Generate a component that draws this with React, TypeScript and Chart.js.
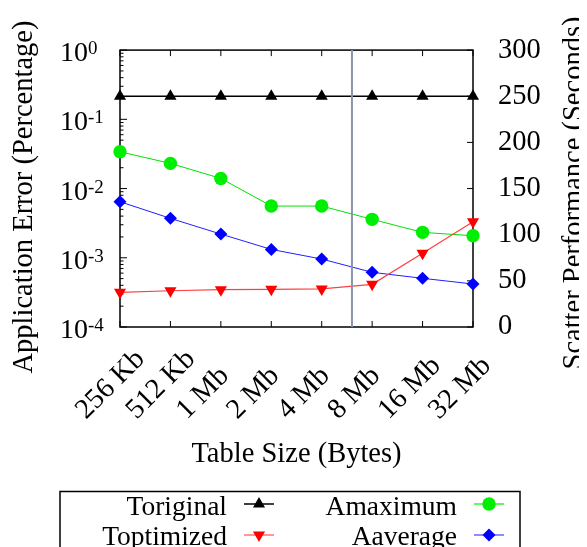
import React, { useEffect, useRef } from 'react';
import { Chart, registerables } from 'chart.js';

Chart.register(...registerables);

const categories = ['256 Kb', '512 Kb', '1 Mb', '2 Mb', '4 Mb', '8 Mb', '16 Mb', '32 Mb'];
const tOriginal = [250, 250, 250, 250, 250, 250, 250, 250];
const tOptimized = [37.6, 39.3, 40.4, 40.8, 41.2, 46.2, 79.8, 114];
const aMaximum = [0.034, 0.0231, 0.014, 0.00559, 0.00559, 0.00359, 0.00233, 0.00208];
const aAverage = [0.00645, 0.00371, 0.0022, 0.00132, 0.000959, 0.000616, 0.000505, 0.000418];
const errorTicks = [1e-4, 1e-3, 1e-2, 1e-1, 1];
const secondsTicks = [0, 50, 100, 150, 200, 250, 300];
const markerPosition = 4.6;
const xTitle = 'Table Size (Bytes)';
const yTitle = 'Application Error (Percentage)';
const y2Title = 'Scatter Performance (Seconds)';

const FONT = '"Liberation Serif", "Times New Roman", serif';

const legendItems = [
  { label: 'Toriginal', color: '#000000', line: '#000000', style: 'triUp', col: 0, row: 0 },
  { label: 'Toptimized', color: '#ff0000', line: '#ff5050', style: 'triDown', col: 0, row: 1 },
  { label: 'Amaximum', color: '#00ee00', line: '#00ee00', style: 'circle', col: 1, row: 0 },
  { label: 'Aaverage', color: '#0000ff', line: '#4040ff', style: 'diamond', col: 1, row: 1 },
];

function drawMarker(ctx: CanvasRenderingContext2D, style: string, x: number, y: number, r: number) {
  ctx.beginPath();
  if (style === 'circle') {
    ctx.arc(x, y, r, 0, Math.PI * 2);
  } else if (style === 'diamond') {
    ctx.moveTo(x - r, y); ctx.lineTo(x, y - r); ctx.lineTo(x + r, y); ctx.lineTo(x, y + r);
  } else if (style === 'triUp') {
    const h = r * 0.866;
    ctx.moveTo(x, y - r); ctx.lineTo(x + h, y + r / 2); ctx.lineTo(x - h, y + r / 2);
  } else {
    const h = r * 0.866;
    ctx.moveTo(x, y + r); ctx.lineTo(x + h, y - r / 2); ctx.lineTo(x - h, y - r / 2);
  }
  ctx.closePath();
  ctx.fill();
}

const decorPlugin = {
  id: 'decor',
  beforeDatasetsDraw(chart: any) {
    const { ctx, chartArea: a, scales } = chart;
    ctx.save();
    ctx.strokeStyle = '#000';
    ctx.lineWidth = 1.5;
    ctx.strokeRect(a.left, a.top, a.right - a.left, a.bottom - a.top);
    ctx.lineWidth = 1;
    const seg = (x1: number, y1: number, x2: number, y2: number) => {
      ctx.beginPath(); ctx.moveTo(x1, y1); ctx.lineTo(x2, y2); ctx.stroke();
    };
    categories.forEach((_, i) => {
      const px = scales.x.getPixelForValue(i);
      seg(px, a.bottom, px, a.bottom - 6);
      seg(px, a.top, px, a.top + 6);
    });
    errorTicks.forEach((d, idx) => {
      const py = scales.y.getPixelForValue(d);
      seg(a.left, py, a.left + 7, py);
      if (idx < errorTicks.length - 1) {
        for (let m = 2; m <= 9; m++) {
          const pm = scales.y.getPixelForValue(d * m);
          seg(a.left, pm, a.left + 3.5, pm);
        }
      }
    });
    secondsTicks.forEach((v) => {
      const py = scales.y2.getPixelForValue(v);
      seg(a.right - 6, py, a.right, py);
    });
    ctx.restore();
  },
  afterDatasetsDraw(chart: any) {
    const { ctx, chartArea: a, scales } = chart;
    ctx.save();
    const px = scales.x.getPixelForValue(markerPosition);
    ctx.strokeStyle = '#8a96a8';
    ctx.lineWidth = 2;
    ctx.beginPath(); ctx.moveTo(px, a.top); ctx.lineTo(px, a.bottom); ctx.stroke();
    ctx.restore();
  },
  afterDraw(chart: any) {
    const { ctx, scales, chartArea: a } = chart;
    ctx.save();
    ctx.fillStyle = '#000';
    // left log tick labels with superscript exponents
    errorTicks.forEach((v) => {
      const py = scales.y.getPixelForValue(v);
      const exp = Math.round(Math.log10(v));
      ctx.font = '28px ' + FONT;
      ctx.textAlign = 'right';
      ctx.textBaseline = 'alphabetic';
      ctx.fillText('10', 80, py + 11);
      ctx.font = '19px ' + FONT;
      ctx.textAlign = 'left';
      ctx.fillText(exp < 0 ? '-' + -exp : String(exp), 80, py + 4);
    });
    // rotated x tick labels, start-aligned
    ctx.font = '28.5px ' + FONT;
    ctx.textAlign = 'left';
    ctx.textBaseline = 'alphabetic';
    categories.forEach((c, i) => {
      const px = scales.x.getPixelForValue(i);
      ctx.save();
      ctx.translate(px - 34, 412);
      ctx.rotate(-Math.PI / 4);
      ctx.fillText(c, 0, 0);
      ctx.restore();
    });
    // axis titles
    ctx.font = '28.5px ' + FONT;
    ctx.textAlign = 'center';
    ctx.fillText(xTitle, (a.left + a.right) / 2, 454);
    ctx.save();
    ctx.translate(24, 189);
    ctx.rotate(-Math.PI / 2);
    ctx.fillText(yTitle, 0, 0);
    ctx.restore();
    ctx.save();
    ctx.translate(574, 185);
    ctx.rotate(-Math.PI / 2);
    ctx.fillText(y2Title, 0, 0);
    ctx.restore();
    // legend
    ctx.strokeStyle = '#000';
    ctx.lineWidth = 1.5;
    ctx.strokeRect(52, 483.5, 460, 120);
    const textX = [219, 449];
    const lineX = [236, 466];
    const markY = [496, 527];
    const textY = [507, 537];
    legendItems.forEach((it) => {
      const y = markY[it.row];
      ctx.font = '27.5px ' + FONT;
      ctx.textAlign = 'right';
      ctx.textBaseline = 'alphabetic';
      ctx.fillStyle = '#000';
      ctx.fillText(it.label, textX[it.col], textY[it.row]);
      ctx.strokeStyle = it.line;
      ctx.lineWidth = it.style === 'triUp' ? 1.5 : 1.2;
      ctx.beginPath();
      ctx.moveTo(lineX[it.col], y);
      ctx.lineTo(lineX[it.col] + 30, y);
      ctx.stroke();
      ctx.fillStyle = it.color;
      drawMarker(ctx, it.style, lineX[it.col] + 15, y, it.style === 'circle' ? 6.7 : it.style === 'diamond' ? 6.5 : 7);
    });
    ctx.restore();
  },
};

export default function App() {
  const ref = useRef<HTMLCanvasElement>(null);
  useEffect(() => {
    Chart.defaults.color = '#000';
    Chart.defaults.font.family = FONT;
    const chart = new Chart(ref.current as HTMLCanvasElement, {
      type: 'line',
      data: {
        labels: categories,
        datasets: [
          {
            label: 'Toriginal', data: tOriginal, yAxisID: 'y2',
            borderColor: '#000000', backgroundColor: '#000000', borderWidth: 1.5,
            pointStyle: 'triangle', pointRadius: 7, pointBorderWidth: 0, clip: false,
          },
          {
            label: 'Toptimized', data: tOptimized, yAxisID: 'y2',
            borderColor: '#ff4040', backgroundColor: '#ff0000', borderWidth: 1.2,
            pointStyle: 'triangle', pointRotation: 180, pointRadius: 7, pointBorderWidth: 0, clip: false,
          },
          {
            label: 'Amaximum', data: aMaximum, yAxisID: 'y',
            borderColor: '#00e000', backgroundColor: '#00ee00', borderWidth: 1,
            pointStyle: 'circle', pointRadius: 6.7, pointBorderWidth: 0, clip: false,
          },
          {
            label: 'Aaverage', data: aAverage, yAxisID: 'y',
            borderColor: '#2020ff', backgroundColor: '#0000ff', borderWidth: 1,
            pointStyle: 'rectRot', pointRadius: 6.5, pointBorderWidth: 0, clip: false,
          },
        ],
      },
      options: {
        responsive: false,
        animation: false,
        devicePixelRatio: 1,
        layout: { autoPadding: false, padding: { top: 42, bottom: 80, left: 0, right: 0 } },
        plugins: { legend: { display: false }, tooltip: { enabled: false } },
        elements: { line: { tension: 0 } },
        scales: {
          x: {
            type: 'category',
            offset: false,
            grid: { display: false, drawTicks: false },
            border: { display: false },
            ticks: { display: false, autoSkip: false },
            afterFit: (s: any) => { s.height = 140; },
          },
          y: {
            type: 'logarithmic',
            position: 'left',
            min: 1e-4,
            max: 1,
            grid: { display: false, drawTicks: false },
            border: { display: false },
            ticks: { display: false },
            afterBuildTicks: (s: any) => { s.ticks = errorTicks.map((v) => ({ value: v })); },
            afterFit: (s: any) => { s.width = 112; },
          },
          y2: {
            type: 'linear',
            position: 'right',
            min: 0,
            max: 300,
            grid: { display: false, drawTicks: false },
            border: { display: false },
            ticks: { stepSize: 50, padding: 25, font: { size: 28.5, family: FONT }, color: '#000' },
            afterBuildTicks: (s: any) => { s.ticks = secondsTicks.map((v) => ({ value: v })); },
            afterFit: (s: any) => { s.width = 114; },
          },
        },
      },
      plugins: [decorPlugin],
    });
    return () => chart.destroy();
  }, []);
  return <canvas ref={ref} width={579} height={539} style={{ display: 'block', width: 579, height: 539 }} />;
}
